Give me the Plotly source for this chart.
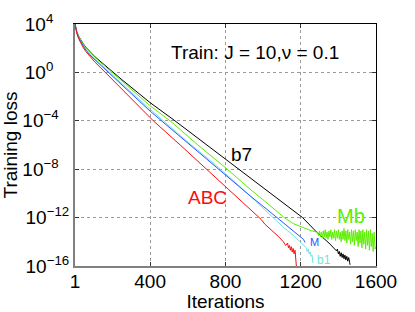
import plotly.graph_objects as go

# ---- data (log10 of training loss) ----
black_it = [1, 3, 6, 10, 20, 30, 45, 60, 80, 107, 250, 400, 532, 700, 868, 1000, 1100, 1210, 1285, 1350, 1390,
            1395, 1400, 1405, 1410, 1415, 1420, 1425, 1430, 1435, 1440, 1445, 1450, 1455, 1460, 1462]
black_lg = [4.0, 3.82, 3.6, 3.4, 3.0, 2.72, 2.37, 2.05, 1.72, 1.29, -0.6, -2.5, -4.0, -6.0, -8.0, -9.55, -10.72, -12.0, -13.2, -14.1, -14.75,
            -14.6, -15.0, -14.8, -15.2, -14.9, -15.3, -15.0, -15.4, -15.1, -15.5, -15.2, -15.6, -15.3, -15.7, -15.9]

green_it = [1, 3, 6, 10, 20, 30, 45, 60, 80, 107, 198, 300, 400, 506, 650, 810, 931, 1037, 1108, 1161, 1214, 1250, 1285,
            1290, 1295, 1300, 1305, 1310, 1315, 1320, 1325, 1330, 1335, 1340, 1345, 1350, 1355, 1360, 1365, 1370, 1375,
            1380, 1385, 1390, 1395, 1400, 1405, 1410, 1415, 1420, 1425, 1430, 1435, 1440, 1445, 1450, 1455, 1460, 1465,
            1470, 1475, 1480, 1485, 1490, 1495, 1500, 1505, 1510, 1515, 1520, 1525, 1530, 1535, 1540, 1545, 1550, 1555,
            1560, 1565, 1570, 1575, 1580, 1585, 1590, 1595, 1600]
green_lg = [4.0, 3.82, 3.6, 3.4, 2.98, 2.7, 2.33, 2.0, 1.65, 1.23, 0.0, -1.4, -2.76, -4.0, -5.95, -8.0, -9.65, -11.0, -11.95, -12.5, -12.85, -13.05, -13.2,
            -13.2, -13.5, -13.1, -13.6, -13.2, -13.7, -13.1, -13.6, -13.0, -13.7, -13.2, -13.8, -13.1, -13.6, -13.0, -13.8, -13.2, -13.7,
            -13.0, -13.9, -13.1, -13.7, -13.0, -13.8, -13.2, -14.0, -13.1, -13.8, -12.9, -13.9, -13.1, -14.1, -13.0, -13.8, -13.2, -14.2,
            -13.0, -14.0, -13.1, -14.3, -13.0, -13.9, -13.2, -14.4, -13.0, -14.1, -13.1, -14.5, -13.0, -14.2, -13.2, -14.6, -13.0, -14.3,
            -13.1, -14.7, -13.0, -14.4, -13.3, -14.8, -13.2, -14.6, -14.4]

blue_it = [1, 3, 6, 10, 20, 30, 45, 60, 80, 107, 178, 300, 400, 453, 600, 763, 931, 1019, 1108, 1197, 1215, 1223]
blue_lg = [4.0, 3.8, 3.56, 3.33, 2.88, 2.56, 2.17, 1.83, 1.45, 1.04, 0.0, -1.75, -3.2, -3.9, -5.85, -8.0, -10.2, -11.3, -12.4, -13.5, -13.8, -14.05]

cyan_it = [1, 3, 6, 10, 20, 30, 45, 60, 80, 107, 185, 300, 400, 600, 763, 900, 1000, 1108, 1160, 1197, 1225,
           1230, 1235, 1240, 1245, 1250, 1255, 1260, 1265]
cyan_lg = [4.0, 3.8, 3.57, 3.35, 2.9, 2.6, 2.2, 1.87, 1.5, 1.1, 0.0, -1.6, -3.05, -5.75, -7.85, -9.75, -11.2, -12.8, -13.45, -14.0, -14.5,
           -14.5, -14.8, -14.6, -15.0, -14.85, -15.2, -15.1, -15.75]

red_it = [1, 3, 6, 10, 20, 30, 45, 60, 80, 107, 162, 300, 400, 417, 560, 700, 800, 900, 975, 990, 1010, 1050, 1081, 1108,
          1120, 1130, 1135, 1140, 1145, 1150, 1155, 1160, 1165, 1170, 1174, 1177]
red_lg = [4.0, 3.78, 3.52, 3.27, 2.8, 2.47, 2.05, 1.7, 1.3, 0.85, 0.0, -2.2, -3.75, -4.0, -6.0, -8.0, -9.45, -10.9, -12.0, -12.15, -12.55, -13.1, -13.55, -14.0,
          -14.3, -14.1, -14.5, -14.3, -14.7, -14.4, -14.85, -14.55, -15.0, -14.7, -15.2, -16.0]

x_ticks = [1, 400, 800, 1200, 1600]
y_tick_exp = [4, 0, -4, -8, -12, -16]

FONT = "Liberation Sans, Arial, Helvetica, sans-serif"
C_BLACK = "#000000"
C_GREEN = "#5cee00"
C_BLUE = "#2a55ff"
C_CYAN = "#6fe3dd"
C_RED = "#ff0a0a"

series = [
    (black_it, black_lg, C_BLACK, "b7"),
    (green_it, green_lg, C_GREEN, "Mb"),
    (cyan_it, cyan_lg, C_CYAN, "b1"),
    (blue_it, blue_lg, C_BLUE, "M"),
    (red_it, red_lg, C_RED, "ABC"),
]

fig = go.Figure()
for it, lg, col, name in series:
    fig.add_trace(go.Scatter(x=it, y=[10 ** v for v in lg], mode="lines",
                             line=dict(color=col, width=1), name=name, showlegend=False))

# invisible trace so the mirrored (top/right) box axes are drawn
fig.add_trace(go.Scatter(x=[None], y=[None], xaxis="x2", yaxis="y2", mode="lines",
                         showlegend=False, hoverinfo="skip"))

def sup_label(e):
    s = str(e).replace("-", "\u2212")
    pad = {1: 3, 2: 2, 3: 0}.get(len(s), 0)
    return "10<sup>" + s + "</sup>" + "\u00a0" * pad

TICKFONT = dict(family=FONT, size=19, color="black")
ax_common = dict(showgrid=True, gridcolor="#9a9a9a", griddash="dot", gridwidth=1,
                 zeroline=False, ticks="inside", ticklen=4, tickcolor="#333333",
                 tickfont=TICKFONT, automargin=False)

fig.update_layout(
    width=415, height=312,
    margin=dict(l=75, r=39, t=24, b=46),
    paper_bgcolor="white", plot_bgcolor="white",
    xaxis=dict(range=[1, 1600], tickvals=x_ticks, ticktext=[str(v) for v in x_ticks],
               showline=True, linecolor="#808080", linewidth=2, ticklabelstandoff=-3,
               title=dict(text="Iterations", font=dict(family=FONT, size=19, color="black"), standoff=0),
               **ax_common),
    yaxis=dict(type="log", range=[-16, 4], tickvals=[10 ** e for e in y_tick_exp],
               ticktext=[sup_label(e) for e in y_tick_exp],
               showline=True, linecolor="#808080", linewidth=2,
               title=dict(text="Training loss", font=dict(family=FONT, size=19, color="black"), standoff=2),
               **ax_common),
    xaxis2=dict(overlaying="x", side="top", anchor="y", range=[1, 1600], tickvals=x_ticks,
                showticklabels=False, showgrid=False, zeroline=False, ticks="inside", ticklen=4,
                tickcolor="#333333", showline=True, linecolor="black", linewidth=1, automargin=False),
    yaxis2=dict(overlaying="y", side="right", anchor="x", type="log", range=[-16, 4],
                tickvals=[10 ** e for e in y_tick_exp], showticklabels=False, showgrid=False,
                zeroline=False, ticks="inside", ticklen=4, tickcolor="#333333",
                showline=True, linecolor="black", linewidth=1, automargin=False),
)

def ann(text, x, y, color, size):
    fig.add_annotation(text=text, x=x, y=y, xref="x", yref="y", showarrow=False,
                       font=dict(family=FONT, size=size, color=color),
                       xanchor="center", yanchor="middle")

ann("Train: J = 10,\u03bd = 0.1", 957, 1.62, "black", 19)
ann("b7", 883, -6.81, C_BLACK, 19)
ann("ABC", 705, -10.36, C_RED, 19)
ann("Mb", 1467, -11.9, C_GREEN, 20)
ann("M", 1271, -14.0, C_BLUE, 11)
ann("b1", 1324, -15.53, C_CYAN, 12)

# remove the browser's default 8px body margin so the figure sits at the window origin
fig.write_html("out.html", config={"displayModeBar": False},
               post_script="document.body.style.margin='0px';")
